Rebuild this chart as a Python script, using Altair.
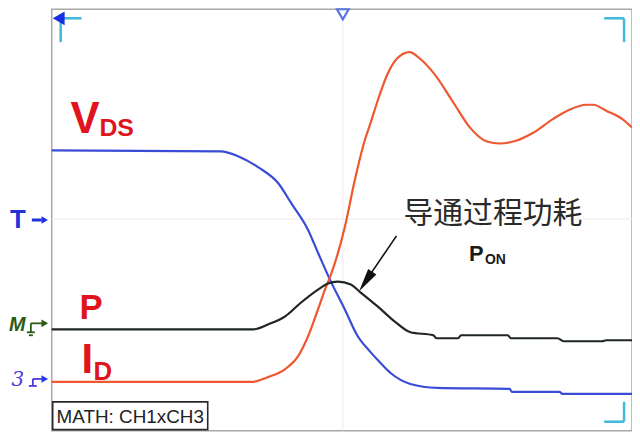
import altair as alt
import pandas as pd

# ---- waveform samples (screen units: x right, y down) ----
vds_x = [52, 222, 240, 260, 280, 293, 310, 320, 332, 347, 360, 372, 382, 393, 413, 440, 513, 515, 563, 566, 636]
vds_y = [150, 151, 156, 167, 183, 203, 230, 253, 280, 310, 337, 352, 363, 374, 385, 389, 390, 393, 393, 395, 395]

id_x = [52, 253, 270, 287, 300, 310, 320, 327, 333, 347, 357, 367, 373, 380, 390, 400, 412, 423, 437, 457, 473, 490, 503, 520, 537, 557, 573, 590, 597, 610, 627, 636]
id_y = [383, 383, 378, 370, 357, 337, 310, 290, 275, 227, 180, 140, 122, 100, 73, 57, 51, 58, 73, 103, 127, 141, 143, 140, 132, 118, 109, 104, 104, 110, 119, 127]

p_x = [52, 255, 270, 287, 303, 320, 330, 340, 353, 363, 380, 397, 413, 436, 439, 461, 464, 511, 514, 561, 567, 606, 610, 636]
p_y = [330, 330, 325, 317, 303, 290, 284, 282, 285, 293, 307, 322, 333, 336, 339, 339, 336, 336, 339, 339, 342, 342, 341, 341]

series_names = ["VDS", "ID", "P"]
series_colors = ["#3a4cd6", "#ee5730", "#1f271f"]

X0, X1, Y0, Y1 = 52, 636, 8, 432

xs = alt.Scale(domain=[X0, X1], nice=False, zero=False)
ys = alt.Scale(domain=[Y0, Y1], nice=False, zero=False, reverse=True)


def X(f="x"):
    return alt.X(f"{f}:Q", scale=xs, axis=None)


def Y(f="y"):
    return alt.Y(f"{f}:Q", scale=ys, axis=None)


rows = []
for name, xv, yv in [("VDS", vds_x, vds_y), ("ID", id_x, id_y), ("P", p_x, p_y)]:
    for i, (a, b) in enumerate(zip(xv, yv)):
        rows.append({"s": name, "x": a, "y": b, "o": i})
waves = pd.DataFrame(rows)

curves = alt.Chart(waves).mark_line(strokeWidth=2.2, interpolate="monotone").encode(
    x=X(), y=Y(), order="o:Q",
    color=alt.Color("s:N", scale=alt.Scale(domain=series_names, range=series_colors), legend=None),
)

# faint centre crosshair of the scope screen
cross = pd.DataFrame({"x": [345, X0], "y": [Y0, 219], "x2": [345, X1], "y2": [Y1, 219]})
grid = alt.Chart(cross).mark_rule(color="#ececec", strokeWidth=1).encode(x=X(), y=Y(), x2="x2:Q", y2="y2:Q")


def segs(df, color, width):
    return alt.Chart(df).mark_rule(color=color, strokeWidth=width).encode(x=X(), y=Y(), x2="x2:Q", y2="y2:Q")


# cyan corner brackets
corners = pd.DataFrame({
    "x":  [58, 61, 608, 628, 628, 608],
    "y":  [17, 17, 17, 17, 403, 423],
    "x2": [82, 61, 628, 628, 628, 628],
    "y2": [17, 41, 17, 41, 423, 423],
})
corner_marks = segs(corners, "#3cb9dc", 2.5)


def label(txt, x, y, size, color, weight="bold", style="normal", align="left", font="Liberation Sans"):
    d = pd.DataFrame({"x": [x], "y": [y], "t": [txt]})
    return alt.Chart(d).mark_text(
        align=align, baseline="alphabetic", fontSize=size, fontWeight=weight,
        fontStyle=style, color=color, font=font,
    ).encode(x=X(), y=Y(), text="t:N")


def point(x, y, shape, size, color, fill=True, angle=0, stroke_width=1.5, fill_color=None):
    d = pd.DataFrame({"x": [x], "y": [y]})
    kw = dict(shape=shape, size=size, angle=angle, opacity=1, strokeWidth=stroke_width)
    if fill:
        kw.update(filled=True, color=color)
    else:
        kw.update(filled=True, fill=fill_color or "white", stroke=color)
    return alt.Chart(d).mark_point(**kw).encode(x=X(), y=Y())


RED = "#e0141c"
layers = [grid, curves, corner_marks]

# top markers
layers.append(point(59, 17, "triangle-left", 190, "#1530e0"))
layers.append(point(345, 13, "triangle-down", 140, "#5a74e0", fill=False, stroke_width=2.2))

# channel labels
layers += [
    label("V", 71, 132, 44, RED),
    label("DS", 100, 135, 25, RED),
    label("P", 80, 320, 35, RED),
    label("I", 82, 374, 42, RED),
    label("D", 94, 381, 26, RED),
]

# annotation: on-state switching loss
layers += [
    label("导通过程功耗", 496, 223, 30, "#2a2a2a", weight="normal", align="center", font="Noto Sans CJK SC"),
    label("P", 472, 261, 22, "#1a1a1a"),
    label("ON", 488, 264, 14, "#1a1a1a"),
]
arrow_line = pd.DataFrame({"x": [399], "y": [236], "x2": [369], "y2": [280]})
layers.append(segs(arrow_line, "#111111", 1.6))
layers.append(point(368, 282, "M0,-1L0.42,1L-0.42,1Z", 560, "#111111", angle=214))

# left-side channel markers
layers += [
    label("T", 18, 228, 26, "#1f33d8", align="center"),
    label("M", 9, 332, 20, "#2c5a12", style="italic"),
    label("3", 18, 387, 20, "#4a3ad8", weight="normal", style="italic", align="center", font="DejaVu Serif"),
]
t_arrow = pd.DataFrame({"x": [32], "y": [220], "x2": [42], "y2": [220]})
layers.append(segs(t_arrow, "#1f33d8", 3))
layers.append(point(45, 220, "triangle-right", 55, "#1f33d8"))

gnd_m = pd.DataFrame({
    "x":  [31, 31, 27, 29],
    "y":  [333, 324, 333, 336],
    "x2": [31, 42, 35, 33],
    "y2": [324, 324, 333, 336],
})
layers.append(segs(gnd_m, "#2c5a12", 1.8))
layers.append(point(45, 324, "triangle-right", 60, "#2c5a12"))

gnd_3 = pd.DataFrame({
    "x":  [33, 33, 29],
    "y":  [387, 380, 387],
    "x2": [33, 42, 37],
    "y2": [380, 380, 387],
})
layers.append(segs(gnd_3, "#4a3ad8", 1.8))
layers.append(point(45, 380, "triangle-right", 60, "#2a3ae0"))

# MATH box
box = pd.DataFrame({"x": [53], "y": [403], "x2": [209], "y2": [431]})
layers.append(alt.Chart(box).mark_rect(fill="white", stroke="#2a2a2a", strokeWidth=1.6).encode(
    x=X(), y=Y(), x2="x2:Q", y2="y2:Q"))
layers.append(label("MATH: CH1xCH3", 131, 424, 19, "#222222", weight="normal", align="center",
                    font="Liberation Sans Narrow, Liberation Sans"))

chart = alt.layer(*layers).properties(
    width=X1 - X0, height=Y1 - Y0,
    padding={"left": 44, "top": 0, "right": 0, "bottom": 0},
    autosize="none", background="white",
).configure_view(stroke="#a8a8a8", strokeWidth=1.5)

chart.save("out.html", embed_options={"renderer": "svg", "actions": False})
